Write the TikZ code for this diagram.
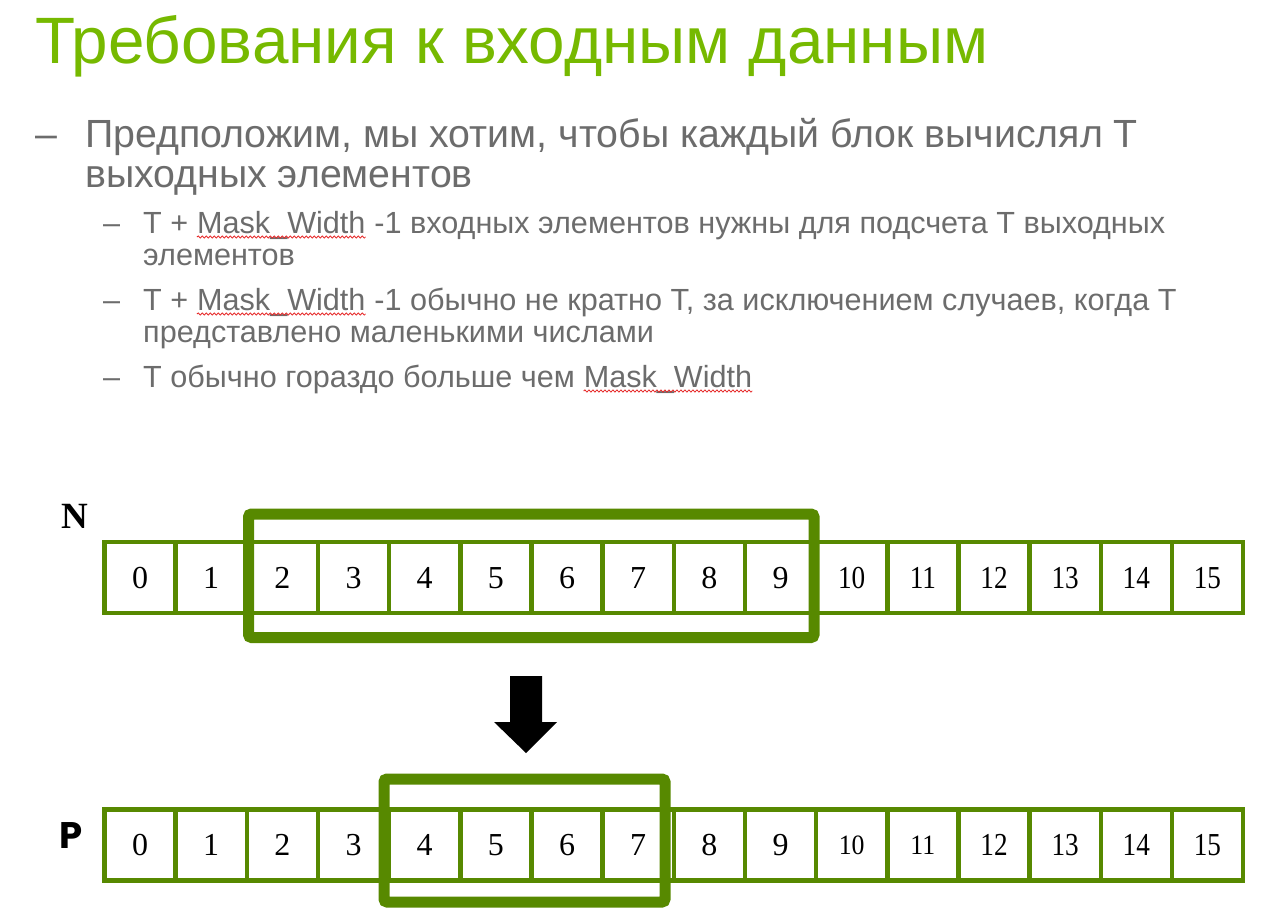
\documentclass[tikz,border=0pt]{standalone}
\usepackage{fontspec}
\usepackage{graphicx}
\setmainfont{Liberation Sans}
\newfontfamily\serifnum{Liberation Serif}
\newfontfamily\labp{Poppins}
\usetikzlibrary{decorations.pathmorphing}
\definecolor{titlegreen}{RGB}{118,185,0}
\definecolor{boxgreen}{RGB}{87,137,0}
\definecolor{txtgray}{RGB}{108,108,108}
\definecolor{squigred}{RGB}{230,40,40}
\tikzset{
  cell/.style={draw=boxgreen, line width=4.5, minimum width=71.16, minimum height=71,
    inner sep=0, text height=21.6, text depth=0, font=\serifnum\fontsize{32}{32}\selectfont, text=black},
  hbox/.style={draw=boxgreen, line width=11, rounded corners=3},
  titletext/.style={anchor=base west, inner sep=0, text=titlegreen, font=\fontsize{65.6}{70}\selectfont},
  lone/.style={anchor=base west, inner sep=0, text=txtgray, font=\fontsize{39.3}{40}\selectfont},
  ltwo/.style={anchor=base west, inner sep=0, text=txtgray, font=\fontsize{30.6}{30}\selectfont},
  squig/.style={draw=squigred, line width=0.8, decorate,
    decoration={snake, segment length=4, amplitude=1.1}},
  blockarrow/.style={fill=black}
}
\newcommand{\nlabel}[1]{\ifnum#1>9 \scalebox{0.85}[1]{#1}\else#1\fi}
\newcommand{\plabel}[1]{\ifnum#1>11 \scalebox{0.85}[1]{#1}\else\ifnum#1>9 \raisebox{1.6pt}{\fontsize{28}{28}\selectfont\scalebox{0.92}[1]{#1}}\else#1\fi\fi}
\begin{document}
\begin{tikzpicture}[x=1pt,y=-1pt]
\useasboundingbox (0,0) rectangle (1279,919);
% title
\node[titletext] (title) at (35,63) {Требования к входным данным};
% level 1
\node[lone] (d1) at (35,147) {–};
\node[lone] (t1) at (85,147) {Предположим, мы хотим, чтобы каждый блок вычислял T};
\node[lone] (t1b) at (85,187) {выходных элементов};
% level 2, item 1
\node[ltwo] (d2) at (103,233) {–};
\node[ltwo] (a1) at (143,233) {T +\ \null};
\node[ltwo] (a2) at (a1.base east) {Mask\_Width};
\node[ltwo] (a3) at (a2.base east) {\ -1 входных элементов нужны для подсчета T выходных};
\node[ltwo] (a4) at (143,265) {элементов};
% item 2
\node[ltwo] (d3) at (103,310) {–};
\node[ltwo] (b1) at (143,310) {T +\ \null};
\node[ltwo] (b2) at (b1.base east) {Mask\_Width};
\node[ltwo] (b3) at (b2.base east) {\ -1 обычно не кратно T, за исключением случаев, когда T};
\node[ltwo] (b4) at (143,342) {представлено маленькими числами};
% item 3
\node[ltwo] (d4) at (103,387) {–};
\node[ltwo] (c1) at (143,387) {T обычно гораздо больше чем\ \null};
\node[ltwo] (c2) at (c1.base east) {Mask\_Width};
% squiggles
\draw[squig] ([yshift=-4]a2.base west) -- ([yshift=-4]a2.base east);
\draw[squig] ([yshift=-4]b2.base west) -- ([yshift=-4]b2.base east);
\draw[squig] ([yshift=-4]c2.base west) -- ([yshift=-4]c2.base east);
% arrays
\foreach \i in {0,...,15} {
  \pgfmathsetmacro\cx{104.5+(\i+0.5)*71.16}
  \node[cell] (n\i) at (\cx,577.5) {\nlabel{\i}};
  \node[cell] (p\i) at (\cx,845) {\plabel{\i}};
}
% labels
\node[inner sep=0, font=\serifnum\bfseries\fontsize{37}{37}\selectfont] (nlab) at (75,516) {N};
\node[inner sep=0, font=\labp\bfseries\fontsize{37}{37}\selectfont] (plab) at (71,835) {P};
% highlight boxes
\draw[hbox] (248.5,514) rectangle (814,637.5);
\draw[hbox] (384,779) rectangle (665,902);
% arrow
\fill[blockarrow] (510,676) -- (542,676) -- (542,722) -- (557,722) -- (526,753) -- (494,722) -- (510,722) -- cycle;
\end{tikzpicture}
\end{document}
